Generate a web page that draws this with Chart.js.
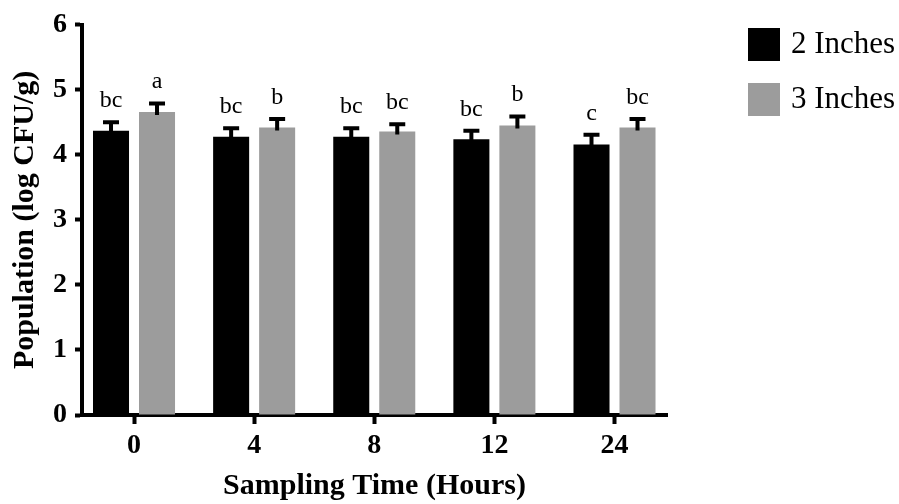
<!DOCTYPE html>
<html>
<head>
<meta charset="utf-8">
<script src="https://cdn.jsdelivr.net/npm/chart.js@4.4.1/dist/chart.umd.min.js"></script>
<style>
  body { margin: 0; background: #fff; }
  #chart { display: block; }
</style>
</head>
<body>
<canvas id="chart" width="899" height="504"></canvas>
<script>
// sampling times (hours)
const samplingTimes = ['0', '4', '8', '12', '24'];
const seriesNames = ['2 Inches', '3 Inches'];

// mean population, log CFU/g
const twoInch = [4.37, 4.28, 4.28, 4.24, 4.16];
const threeInch = [4.66, 4.42, 4.36, 4.45, 4.42];

// error (one side, upward)
const twoInchErr = [0.13, 0.13, 0.13, 0.13, 0.15];
const threeInchErr = [0.13, 0.13, 0.11, 0.14, 0.13];

// significance letters
const twoInchLetters = ['bc', 'bc', 'bc', 'bc', 'c'];
const threeInchLetters = ['a', 'b', 'bc', 'b', 'bc'];

const yTicks = [0, 1, 2, 3, 4, 5, 6];

const serif = 'Liberation Serif';

// error bars + letters above them
const errorBarPlugin = {
  id: 'errorBars',
  afterDatasetsDraw(chart) {
    const ctx = chart.ctx;
    const y = chart.scales.y;
    chart.data.datasets.forEach((ds, di) => {
      const meta = chart.getDatasetMeta(di);
      meta.data.forEach((bar, i) => {
        const top = y.getPixelForValue(ds.data[i].y + ds.errors[i]);
        ctx.save();
        ctx.strokeStyle = '#000';
        ctx.lineWidth = 4;
        ctx.beginPath();
        ctx.moveTo(bar.x, bar.y + 3);
        ctx.lineTo(bar.x, top);
        ctx.moveTo(bar.x - 8, top);
        ctx.lineTo(bar.x + 8, top);
        ctx.stroke();

        ctx.fillStyle = '#000';
        ctx.font = '24px "' + serif + '"';
        ctx.textAlign = 'center';
        ctx.textBaseline = 'alphabetic';
        ctx.fillText(ds.letters[i], bar.x, top - 15);
        ctx.restore();
      });
    });
  }
};

// legend on the right, drawn next to the plot
const sideLegend = {
  id: 'sideLegend',
  afterDraw(chart) {
    const ctx = chart.ctx;
    const x0 = chart.chartArea.right + 81;
    ctx.save();
    chart.data.datasets.forEach((ds, i) => {
      const top = 28 + i * 55;
      ctx.fillStyle = ds.backgroundColor;
      ctx.fillRect(x0, top, 32, 33);
      ctx.fillStyle = '#000';
      ctx.font = '31px "' + serif + '"';
      ctx.textAlign = 'left';
      ctx.textBaseline = 'middle';
      ctx.fillText(ds.label, x0 + 43, top + 17);
    });
    ctx.restore();
  }
};

new Chart(document.getElementById('chart'), {
  type: 'bar',
  data: {
    datasets: [
      {
        label: seriesNames[0],
        data: twoInch.map((v, i) => ({ x: i, y: v })),
        errors: twoInchErr,
        letters: twoInchLetters,
        backgroundColor: '#000000',
        categoryPercentage: 0.766,
        barPercentage: 0.783
      },
      {
        label: seriesNames[1],
        data: threeInch.map((v, i) => ({ x: i, y: v })),
        errors: threeInchErr,
        letters: threeInchLetters,
        backgroundColor: '#9c9c9c',
        categoryPercentage: 0.766,
        barPercentage: 0.783
      }
    ]
  },
  options: {
    responsive: false,
    animation: false,
    layout: { padding: { top: 23, right: 232, bottom: 0, left: 7 } },
    plugins: {
      legend: { display: false },
      tooltip: { enabled: false }
    },
    scales: {
      x: {
        type: 'linear',
        offset: false,
        min: -0.433,
        max: 4.437,
        afterBuildTicks: (scale) => {
          scale.ticks = samplingTimes.map((t, i) => ({ value: i }));
        },
        ticks: {
          callback: (v) => samplingTimes[v],
          color: '#000',
          font: { family: serif, size: 28, weight: 'bold', lineHeight: 1 },
          padding: 8,
          maxRotation: 0
        },
        grid: {
          offset: false,
          drawOnChartArea: false,
          drawTicks: true,
          tickLength: 9,
          tickWidth: 4,
          tickColor: '#000'
        },
        border: { display: true, color: '#000', width: 4 },
        title: {
          display: true,
          text: 'Sampling Time (Hours)',
          color: '#000',
          font: { family: serif, size: 30, weight: 'bold' },
          padding: { top: 0, bottom: 0 }
        }
      },
      y: {
        min: 0,
        max: 6,
        afterBuildTicks: (scale) => {
          scale.ticks = yTicks.map(v => ({ value: v }));
        },
        ticks: {
          color: '#000',
          font: { family: serif, size: 28, weight: 'bold' },
          padding: 8
        },
        grid: {
          drawOnChartArea: false,
          drawTicks: true,
          tickLength: 7,
          tickWidth: 4,
          tickColor: '#000'
        },
        border: { display: true, color: '#000', width: 4 },
        title: {
          display: true,
          text: 'Population (log CFU/g)',
          color: '#000',
          font: { family: serif, size: 30, weight: 'bold' },
          padding: { top: 0, bottom: 2 }
        }
      }
    }
  },
  plugins: [errorBarPlugin, sideLegend]
});
</script>
</body>
</html>
